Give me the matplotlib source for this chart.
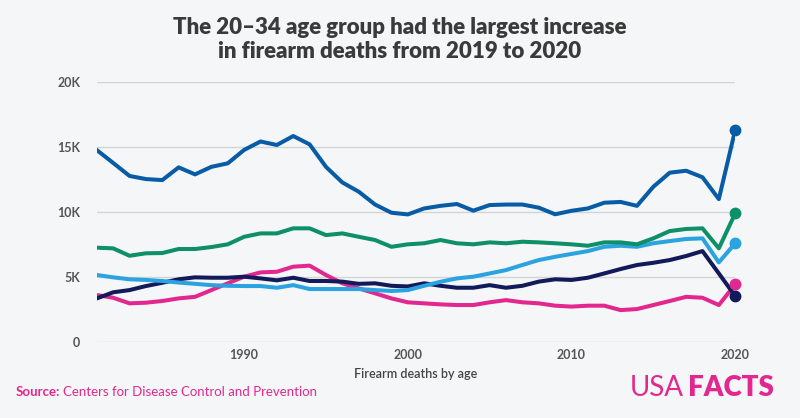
import numpy as np
import matplotlib
matplotlib.use("Agg")
import matplotlib.pyplot as plt
from matplotlib.ticker import FuncFormatter

# years on the x axis
years = list(range(1981, 2021))

# firearm deaths per year (thousands)
age_20_34 = [14.79, 13.8, 12.8, 12.56, 12.48, 13.46, 12.92, 13.5, 13.77, 14.8,
             15.45, 15.18, 15.87, 15.23, 13.5, 12.3, 11.59, 10.6, 9.97, 9.84,
             10.3, 10.5, 10.64, 10.13, 10.56, 10.6, 10.6, 10.36, 9.85, 10.12,
             10.3, 10.74, 10.8, 10.5, 11.97, 13.05, 13.2, 12.7, 11.02, 16.33]
age_35_49 = [7.28, 7.23, 6.66, 6.85, 6.87, 7.18, 7.18, 7.33, 7.54, 8.12,
             8.38, 8.38, 8.77, 8.77, 8.25, 8.38, 8.12, 7.87, 7.35, 7.54,
             7.62, 7.87, 7.62, 7.54, 7.69, 7.62, 7.74, 7.69, 7.62, 7.54,
             7.43, 7.69, 7.69, 7.54, 8.0, 8.56, 8.72, 8.77, 7.23, 9.92]
age_50_64 = [5.18, 5.0, 4.85, 4.8, 4.72, 4.6, 4.5, 4.4, 4.35, 4.33,
             4.33, 4.2, 4.4, 4.1, 4.1, 4.1, 4.1, 4.02, 3.95, 4.02,
             4.35, 4.66, 4.92, 5.05, 5.3, 5.56, 5.95, 6.33, 6.58, 6.8,
             7.02, 7.35, 7.43, 7.35, 7.62, 7.79, 7.95, 8.0, 6.15, 7.62]
age_0_19 = [3.64, 3.43, 3.0, 3.05, 3.18, 3.38, 3.5, 4.02, 4.54, 5.05,
            5.38, 5.43, 5.82, 5.9, 5.18, 4.54, 4.15, 3.77, 3.38, 3.08,
            3.0, 2.92, 2.87, 2.87, 3.08, 3.25, 3.08, 3.0, 2.82, 2.75,
            2.82, 2.82, 2.48, 2.56, 2.87, 3.18, 3.5, 3.43, 2.87, 4.46]
age_65_up = [3.38, 3.85, 4.02, 4.33, 4.58, 4.85, 5.0, 4.97, 4.97, 5.05,
             4.92, 4.77, 4.97, 4.72, 4.72, 4.67, 4.5, 4.54, 4.35, 4.3,
             4.54, 4.35, 4.2, 4.2, 4.4, 4.2, 4.35, 4.67, 4.85, 4.8,
             4.97, 5.3, 5.64, 5.95, 6.12, 6.33, 6.64, 7.02, 5.3, 3.56]

series = [
    (age_0_19, "#e2288e"),
    (age_65_up, "#121a5a"),
    (age_50_64, "#2ba3e0"),
    (age_35_49, "#0d8f68"),
    (age_20_34, "#085ca6"),
]

plt.rcParams["font.family"] = ["Lato", "DejaVu Sans"]

fig = plt.figure(figsize=(8, 4.18), dpi=100)
fig.patch.set_facecolor("#f5f6f8")
ax = fig.add_axes([0.121, 0.181, 0.798, 0.622])
ax.set_facecolor("none")

for vals, col in series:
    y = np.array(vals) * 1000
    ax.plot(years, y, color=col, lw=2.9, solid_joinstyle="round", zorder=3)
    # end dot for 2020
    ax.plot(years[-1], y[-1], "o", color=col, ms=7.5, clip_on=False, zorder=4)

ax.set_xlim(1981, 2020)
ax.set_ylim(0, 20000)
ax.set_xticks([1990, 2000, 2010, 2020])
ax.set_yticks([0, 5000, 10000, 15000, 20000])
ax.yaxis.set_major_formatter(FuncFormatter(lambda v, p: "0" if v == 0 else f"{int(v/1000)}K"))
ax.grid(axis="y", color="#d3d4d6", lw=1, zorder=1)
for s in ax.spines.values():
    s.set_visible(False)
ax.tick_params(length=0, labelsize=9, labelcolor="#555555", pad=12)
ax.tick_params(axis="x", pad=5)
for lbl in ax.get_xticklabels() + ax.get_yticklabels():
    lbl.set_fontweight("bold")

ax.set_xlabel("Firearm deaths by age", fontsize=9, color="#444444", labelpad=5, fontweight="semibold")

fig.text(0.5, 0.905, "The 20\u201334 age group had the largest increase\nin firearm deaths from 2019 to 2020",
         ha="center", va="center", fontsize=16, fontweight="heavy", color="#3a3a3a", linespacing=1.15)

# source line
t = fig.text(0.02, 0.062, "Source:", fontsize=9.5, fontweight="bold", color="#e2288e", va="center")
fig.canvas.draw()
bb = t.get_window_extent()
fig.text((bb.x1 + 3) / 800, 0.062, "Centers for Disease Control and Prevention",
         fontsize=9.5, color="#e2288e", va="center")

# logo
u = fig.text(0.787, 0.072, "USA", fontsize=20, fontweight="normal", color="#e2288e", va="center")
fig.canvas.draw()
bb = u.get_window_extent()
fig.text((bb.x1 + 4) / 800, 0.072, "FACTS", fontsize=20, fontweight="heavy", color="#e2288e", va="center")

plt.savefig("out.png", dpi=100, facecolor=fig.get_facecolor())
